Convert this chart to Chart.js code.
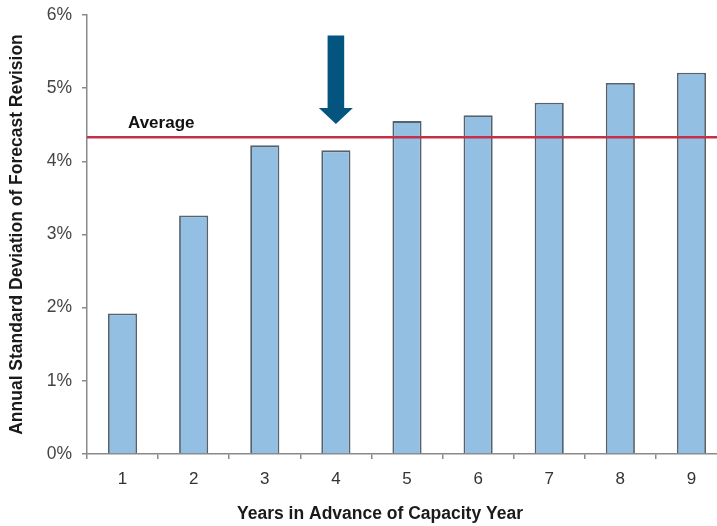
<!DOCTYPE html>
<html>
<head>
<meta charset="utf-8">
<script src="https://cdn.jsdelivr.net/npm/chart.js@4/dist/chart.umd.min.js"></script>
<style>
  html, body { margin: 0; padding: 0; background: #ffffff; overflow: hidden; }
  #wrap { width: 760px; height: 526px; }
</style>
</head>
<body>
<div id="wrap"><canvas id="chart" width="760" height="526"></canvas></div>
<script>
// Years ahead of the capacity year and the spread of forecast revisions (%)
const years = ['1', '2', '3', '4', '5', '6', '7', '8', '9'];
const stdDevPct = [1.92, 3.26, 4.22, 4.15, 4.55, 4.63, 4.80, 5.07, 5.21];
const averagePct = 4.33;
const yTickValues = [0, 1, 2, 3, 4, 5, 6];

const FONT = "'Liberation Sans', Arial, Helvetica, sans-serif";

// Average reference line with its label
const averageLine = {
  id: 'averageLine',
  afterDatasetsDraw(chart) {
    const { ctx, chartArea, scales } = chart;
    const y = scales.y.getPixelForValue(averagePct);
    ctx.save();
    ctx.strokeStyle = '#c3304a';
    ctx.lineWidth = 2.5;
    ctx.beginPath();
    ctx.moveTo(chartArea.left, y);
    ctx.lineTo(chartArea.right, y);
    ctx.stroke();
    ctx.fillStyle = '#111111';
    ctx.font = 'bold 17px ' + FONT;
    ctx.textAlign = 'left';
    ctx.textBaseline = 'middle';
    ctx.fillText('Average', chartArea.left + 41, y - 13.5);
    ctx.restore();
  }
};

// Downward arrow pointing at year 4
const pointerArrow = {
  id: 'pointerArrow',
  afterDatasetsDraw(chart) {
    const { ctx, scales } = chart;
    const cx = scales.x.getPixelForValue(3);
    const top = scales.y.getPixelForValue(5.72);
    const headBase = scales.y.getPixelForValue(4.73);
    const tip = scales.y.getPixelForValue(4.51);
    const shaftHalf = 8.3, headHalf = 17;
    ctx.save();
    ctx.fillStyle = '#03547f';
    ctx.beginPath();
    ctx.moveTo(cx - shaftHalf, top);
    ctx.lineTo(cx + shaftHalf, top);
    ctx.lineTo(cx + shaftHalf, headBase);
    ctx.lineTo(cx + headHalf, headBase);
    ctx.lineTo(cx, tip);
    ctx.lineTo(cx - headHalf, headBase);
    ctx.lineTo(cx - shaftHalf, headBase);
    ctx.closePath();
    ctx.fill();
    ctx.restore();
  }
};

// Horizontal axis title, centred on the full figure width
const xTitle = {
  id: 'xTitle',
  afterDraw(chart) {
    const { ctx } = chart;
    ctx.save();
    ctx.fillStyle = '#1a1a1a';
    ctx.font = 'bold 17.5px ' + FONT;
    ctx.textAlign = 'center';
    ctx.textBaseline = 'middle';
    ctx.fillText('Years in Advance of Capacity Year', chart.width / 2, 514);
    ctx.restore();
  }
};

new Chart(document.getElementById('chart'), {
  type: 'bar',
  data: {
    labels: years,
    datasets: [{
      data: stdDevPct,
      backgroundColor: '#93bfe2',
      borderColor: '#56626e',
      borderWidth: 1.8,
      barPercentage: 0.41,
      categoryPercentage: 1.0
    }]
  },
  options: {
    responsive: false,
    animation: false,
    devicePixelRatio: 1,
    layout: { padding: { top: 15, right: 33, bottom: 0, left: 0 } },
    plugins: {
      legend: { display: false },
      tooltip: { enabled: false },
      title: { display: false }
    },
    scales: {
      x: {
        offset: true,
        grid: {
          offset: true,
          drawOnChartArea: false,
          drawTicks: true,
          tickLength: 5,
          color: '#8a8a8a',
          lineWidth: 1.5
        },
        border: { color: '#8a8a8a', width: 1.5 },
        ticks: {
          color: '#333333',
          font: { family: FONT, size: 17 },
          padding: 10
        },
        afterFit(scale) { scale.height = 72; }
      },
      y: {
        min: 0,
        max: 6,
        afterBuildTicks(scale) { scale.ticks = yTickValues.map(v => ({ value: v })); },
        grid: {
          drawOnChartArea: false,
          drawTicks: true,
          tickLength: 5,
          color: '#8a8a8a',
          lineWidth: 1.5
        },
        border: { color: '#8a8a8a', width: 1.5 },
        ticks: {
          color: '#444444',
          font: { family: FONT, size: 17.5 },
          padding: 10,
          callback: v => v + '%'
        },
        title: {
          display: true,
          text: 'Annual Standard Deviation of Forecast Revision',
          color: '#1a1a1a',
          font: { family: FONT, size: 17.5, weight: 'bold' },
          padding: { top: 7, bottom: 0 }
        },
        afterFit(scale) {
          scale.width = 87;
          scale.paddingTop = 0;
          scale.paddingBottom = 0;
        }
      }
    }
  },
  plugins: [averageLine, pointerArrow, xTitle]
});
</script>
</body>
</html>
